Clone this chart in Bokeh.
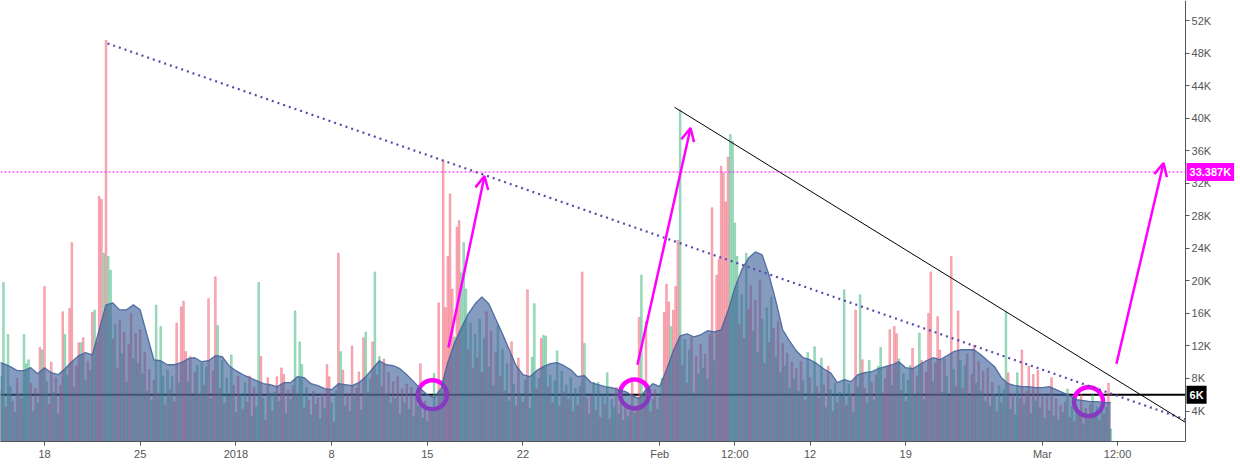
import pandas as pd
from bokeh.plotting import figure
from bokeh.models import (ColumnDataSource, Range1d, FixedTicker, Label, Arrow, OpenHead,
                          LinearAxis)
from bokeh.embed import file_html
from bokeh.resources import INLINE

ORIGIN = pd.Timestamp("2017-12-01")


def to_day(t):
    return (pd.to_datetime(t) - ORIGIN) / pd.Timedelta(days=1)


# ---------------- data ----------------
bar_start = "2017-12-14 16:00"
bar_step = "4h"
volume_k = [
    6.5, 8.2, 19.8, 4.5, 13.4, 7.0, 5.2, 3.8, 8.0, 6.1,
    5.5, 13.4, 9.8, 10.3, 7.4, 3.9, 6.8, 5.0, 11.8, 11.5,
    19.3, 7.6, 4.8, 10.0, 6.3, 8.1, 3.6, 7.2, 16.2, 13.4,
    8.4, 16.6, 24.7, 6.9, 9.5, 12.4, 12.4, 13.0, 7.7, 10.1,
    9.0, 16.1, 16.4, 12.5, 30.4, 30.0, 23.4, 49.6, 23.0, 21.3,
    12.8, 14.6, 9.3, 15.2, 11.0, 13.7, 7.5, 12.2, 16.0, 10.4,
    13.5, 9.8, 14.0, 8.6, 11.2, 6.4, 9.1, 5.3, 7.8, 17.0,
    6.2, 14.4, 8.3, 4.7, 9.0, 6.6, 8.2, 5.1, 14.8, 7.4,
    16.8, 17.5, 11.3, 7.6, 10.7, 5.9, 8.8, 9.6, 6.1, 9.9,
    7.2, 9.4, 17.8, 5.5, 8.9, 20.5, 14.5, 6.8, 10.2, 4.9,
    8.0, 5.8, 10.9, 7.1, 3.8, 8.3, 6.0, 4.2, 7.5, 5.1,
    8.3, 3.4, 6.9, 4.5, 19.8, 10.7, 5.6, 2.9, 8.1, 6.2,
    4.0, 6.3, 8.2, 5.2, 9.3, 8.5, 3.7, 6.6, 5.4, 7.1,
    16.3, 6.0, 12.5, 9.7, 4.4, 6.9, 5.3, 3.5, 6.4, 4.8,
    5.6, 3.0, 6.1, 4.3, 9.7, 8.2, 5.0, 2.6, 6.5, 23.4,
    11.3, 9.0, 4.6, 6.2, 3.9, 12.0, 5.7, 6.8, 8.8, 4.1,
    13.0, 13.7, 6.3, 7.9, 12.5, 21.1, 8.4, 10.7, 7.0, 10.4,
    6.1, 8.7, 4.9, 7.6, 5.5, 8.2, 3.6, 6.7, 5.0, 7.3,
    4.2, 6.9, 3.3, 5.8, 4.6, 9.8, 3.1, 5.2, 2.7, 4.4,
    3.8, 8.6, 4.1, 17.3, 6.5, 34.8, 16.7, 23.0, 30.7, 19.0,
    13.1, 26.6, 27.4, 21.0, 24.7, 19.0, 11.6, 14.8, 9.2, 13.4,
    10.5, 15.3, 8.7, 12.9, 16.2, 9.4, 13.8, 7.1, 11.2, 14.5,
    8.3, 11.6, 6.5, 9.8, 5.2, 12.5, 7.3, 4.6, 10.5, 6.0,
    5.1, 7.8, 18.9, 4.3, 10.6, 17.2, 6.7, 8.0, 12.9, 13.3,
    13.2, 6.9, 8.4, 5.0, 7.7, 11.4, 4.6, 8.9, 6.3, 7.2,
    5.4, 8.1, 3.9, 6.8, 4.7, 7.0, 21.1, 12.3, 5.6, 3.6,
    5.9, 7.5, 4.1, 7.5, 3.2, 6.0, 4.8, 8.7, 3.0, 5.4,
    4.4, 6.9, 3.6, 5.1, 2.8, 4.9, 3.3, 4.0, 7.5, 3.7,
    4.5, 15.5, 20.7, 5.8, 15.0, 6.3, 3.9, 5.4, 6.6, 4.2,
    5.7, 8.0, 16.1, 19.6, 17.4, 14.4, 16.4, 19.3, 25.0, 41.0,
    9.6, 12.8, 7.4, 11.5, 13.1, 6.2, 10.7, 8.5, 12.2, 9.3,
    11.0, 7.9, 13.4, 29.0, 10.2, 20.7, 22.7, 34.1, 33.3, 29.7,
    35.2, 38.0, 37.2, 27.1, 23.0, 14.6, 18.3, 12.9, 23.4, 16.5,
    19.4, 13.8, 17.6, 11.2, 20.1, 15.3, 9.8, 16.7, 12.4, 18.0,
    14.1, 10.6, 15.0, 8.7, 12.3, 9.5, 11.1, 6.8, 10.0, 7.9,
    9.2, 6.4, 10.1, 7.7, 5.3, 11.2, 8.1, 6.0, 11.9, 7.0,
    5.6, 10.5, 7.2, 4.4, 9.5, 6.6, 3.9, 7.4, 5.0, 6.3,
    5.8, 18.9, 4.7, 7.3, 6.1, 3.8, 16.4, 6.9, 18.3, 10.3,
    6.8, 4.9, 10.2, 7.5, 5.3, 8.4, 9.5, 11.8, 6.2, 7.9,
    9.5, 14.0, 7.1, 14.4, 13.5, 10.4, 6.5, 8.6, 5.2, 7.8,
    9.6, 11.7, 6.0, 8.3, 13.6, 10.2, 5.4, 8.8, 16.0, 21.1,
    7.6, 9.9, 15.6, 11.5, 6.3, 10.4, 8.2, 5.9, 23.0, 9.1,
    7.0, 16.3, 10.2, 6.8, 9.6, 11.0, 5.7, 8.5, 12.1, 7.4,
    10.1, 6.4, 8.9, 5.2, 9.3, 4.6, 7.5, 6.0, 3.9, 7.1,
    5.0, 6.6, 16.2, 8.7, 4.2, 6.1, 3.5, 8.7, 5.5, 11.5,
    4.8, 6.4, 9.5, 3.7, 8.5, 5.2, 9.0, 4.4, 6.0, 3.1,
    5.7, 4.0, 8.1, 3.4, 5.5, 2.9, 4.7, 3.8, 5.1, 6.7,
    3.2, 4.6, 2.7, 4.1, 3.5, 6.0, 2.4, 4.3, 3.0, 4.8,
    6.0, 3.3, 4.5, 2.8, 4.0, 3.6, 4.4, 7.4, 1.8,
]
bar_side = list(
    "RGGRGGRGRG" "RGGGRGRGRG" "RGRRGRGRRG" "GRRGRRGRGR" "GRGRRRGRGG"
    "RGRRGRGRRG" "RGRGRGRGRG" "RGGRGRGRRG" "RRRGRGRGRG" "RGRGRRGRGR"
    "GRGRGRGRGR" "RGRGGRGRRG" "RGRGRRGRGR" "GRGGRGRGRG" "RGRGRRGRGR"
    "GRGRGRGRRG" "RGRGRGRGRR" "GRGRGRGRGR" "GRGRGRGRGR" "RGRRGRRRRR"
    "GRRGGGRGRG" "RGRGRGRGRG" "RGRGGRGRRG" "RGRGGGRGRG" "GRGRGGRGRG"
    "RGRGRGRGRG" "RGRGRGRGRG" "GRGRGRGRRG" "RRGRRGRGRG" "RGRRRGRRRG"
    "RGRGRGRGRG" "RGRRGRRRRR" "RGGGGRGRGR" "RGRGRGRGRG" "RGRGRGRGRG"
    "RGRGRGRGGR" "RGRGRGRGRG" "RGRGRGRGGR" "RGGRGRGGRR" "RRGRRGRGRG"
    "GRGRGRGRRR" "GRRRGRGRRG" "RRGRGRGRRG" "RGRGRGRGRG" "RGGRGRGGRR"
    "GRRGRGRGRG" "RGRGRGRGRG" "RGRGRRGRGR" "GRGRGRGRG"
)

ma_start = "2017-12-14 12:00"
ma_step = "12h"
ma_k = [
    10.06, 9.82, 9.45, 8.96, 8.96, 9.33, 8.59, 9.33, 8.71, 8.47,
    9.2, 10.06, 10.8, 11.17, 10.9, 14.0, 17.05, 17.3, 16.44, 16.44,
    17.05, 16.44, 13.37, 10.3, 10.18, 9.69, 9.69, 9.94, 10.43, 10.55,
    10.06, 10.18, 10.8, 10.67, 9.57, 8.96, 8.47, 8.1, 7.73, 7.36,
    7.24, 6.99, 7.48, 7.48, 8.22, 8.1, 7.36, 7.12, 6.75, 6.63,
    7.36, 7.24, 7.12, 7.48, 8.22, 9.2, 10.18, 9.69, 9.57, 9.2,
    8.47, 7.61, 6.75, 6.01, 5.64, 6.75, 9.94, 12.39, 14.23, 15.95,
    17.18, 18.04, 17.18, 15.34, 13.5, 11.53, 9.57, 8.47, 8.22, 8.96,
    9.45, 9.82, 9.94, 9.57, 9.08, 8.22, 8.34, 7.48, 7.24, 6.99,
    6.87, 6.63, 6.38, 5.89, 5.52, 6.63, 7.36, 6.99, 9.08, 11.41,
    13.25, 13.5, 13.13, 13.37, 13.87, 13.74, 13.99, 16.32, 19.14, 21.35,
    22.82, 23.56, 23.19, 20.74, 17.55, 13.99, 12.64, 11.41, 10.55, 10.31,
    9.82, 9.2, 8.71, 7.48, 7.85, 7.61, 8.47, 8.71, 8.83, 9.2,
    9.45, 9.69, 10.06, 9.33, 9.2, 9.69, 10.18, 10.55, 10.31, 10.8,
    11.29, 11.53, 11.53, 11.53, 10.92, 10.18, 9.45, 8.1, 7.36, 7.12,
    6.99, 6.99, 6.87, 6.87, 6.99, 6.63, 6.26, 5.89, 5.4, 5.28,
    5.15, 5.15, 5.03, 5.03,
]

x_tick_dates = ["2017-12-18", "2017-12-25", "2018-01-01", "2018-01-08", "2018-01-15",
                "2018-01-22", "2018-02-01", "2018-02-06 12:00", "2018-02-12",
                "2018-02-19", "2018-03-01", "2018-03-06 12:00"]
x_tick_labels = ["18", "25", "2018", "8", "15", "22", "Feb", "12:00", "12", "19", "Mar", "12:00"]
y_ticks = [4, 8, 12, 16, 20, 24, 28, 32, 36, 40, 44, 48, 52]
y_tick_labels = ["4K", "8K", "12K", "16K", "20K", "24K", "28K", "32K", "36K", "40K", "44K", "48K", "52K"]

level_support = 6.0
level_target = 33.387

dotted_trend_t = ["2017-12-22 14:40", "2018-03-11 11:15"]
dotted_trend_v = [49.2, 2.94]
solid_trend_t = ["2018-02-02 02:10", "2018-03-11 11:15"]
solid_trend_v = [41.35, 2.6]

arrow_t0 = ["2018-01-16 13:10", "2018-01-30 09:00", "2018-03-06 10:00"]
arrow_v0 = [11.8, 9.7, 9.8]
arrow_t1 = ["2018-01-19 04:30", "2018-02-03 06:15", "2018-03-09 20:40"]
arrow_v1 = [32.9, 38.8, 34.5]

ring_t = ["2018-01-15 09:00", "2018-01-30 04:00", "2018-03-04 09:00"]
ring_v = [6.0, 6.1, 5.15]

# visible window; the price scale sits at the last chart time
view_t = ["2017-12-14 18:45", "2018-03-15 06:30"]
scale_t = "2018-03-11 11:15"
view_v = [0.25, 54.48]

# ---------------- figure ----------------
FONT = "Liberation Sans"
RED, GREEN = "#ee5468", "#3db57c"
MAGENTA = "#ff00ff"

xr = [to_day(t) for t in view_t]
x_scale = to_day(scale_t)
p = figure(width=1237, height=462, output_backend="svg", toolbar_location=None,
           x_range=Range1d(xr[0], xr[1]), y_range=Range1d(view_v[0], view_v[1]),
           y_axis_location=None, min_border_left=0, min_border_top=0,
           min_border_right=0, min_border_bottom=0)
p.grid.visible = False
p.outline_line_color = None
p.background_fill_color = "white"
p.border_fill_color = "white"

# support line (under the bars and the area)
p.line(x=[xr[0], x_scale], y=[level_support, level_support], line_color="#000000", line_width=2)

bar_x = to_day(pd.date_range(bar_start, periods=len(volume_k), freq=bar_step))
bar_src = ColumnDataSource(dict(
    x=list(bar_x), top=volume_k,
    color=[RED if s == "R" else GREEN for s in bar_side],
))
p.vbar(x="x", top="top", bottom=0, width=0.12, source=bar_src,
       fill_color="color", line_color="color", fill_alpha=0.4, line_alpha=0.55, line_width=0.8)

# rings (drawn before the area so their lower half is tinted)
p.scatter(x=[to_day(t) for t in ring_t], y=ring_v, marker="circle", size=29,
          fill_color=None, line_color=MAGENTA, line_width=4.5)

ma_x = list(to_day(pd.date_range(ma_start, periods=len(ma_k), freq=ma_step)))
p.varea(x=ma_x, y1=[0] * len(ma_k), y2=ma_k, fill_color="#3a5d97", fill_alpha=0.62)
p.line(x=ma_x, y=ma_k, line_color="#46659a", line_width=1.3, line_alpha=0.9)

# trend lines
p.line(x=[to_day(t) for t in dotted_trend_t], y=dotted_trend_v, line_color="#5a4aae",
       line_width=2.2, line_dash="2 4")
p.line(x=[to_day(t) for t in solid_trend_t], y=solid_trend_v, line_color="#000000", line_width=1)

p.line(x=[xr[0], x_scale], y=[level_target, level_target], line_color=MAGENTA,
       line_width=1, line_dash="2 2")

for t0, v0, t1, v1 in zip(arrow_t0, arrow_v0, arrow_t1, arrow_v1):
    p.add_layout(Arrow(end=OpenHead(size=13, line_color=MAGENTA, line_width=2.5),
                       x_start=to_day(t0), y_start=v0, x_end=to_day(t1), y_end=v1,
                       line_color=MAGENTA, line_width=2.5))

# axes
tick_days = [float(to_day(t)) for t in x_tick_dates]
xa = p.xaxis[0]
xa.ticker = FixedTicker(ticks=tick_days)
xa.major_label_overrides = {d: l for d, l in zip(tick_days, x_tick_labels)}
xa.bounds = (xr[0], x_scale)

ya = LinearAxis(fixed_location=x_scale, ticker=FixedTicker(ticks=y_ticks),
                major_label_overrides={v: l for v, l in zip(y_ticks, y_tick_labels)})
p.add_layout(ya, "right")
for ax in (xa, ya):
    ax.axis_line_color = "#555555"
    ax.major_tick_line_color = "#555555"
    ax.major_tick_in = 0
    ax.major_tick_out = 4
    ax.minor_tick_line_color = None
    ax.major_label_text_color = "#555555"
    ax.major_label_text_font = FONT
    ax.major_label_text_font_size = "11px"
    ax.major_label_standoff = 2

# price labels on the scale
p.add_layout(Label(x=x_scale, y=level_target, x_offset=1, text="33.387K",
                   text_color="white", text_font=FONT, text_font_style="bold",
                   text_font_size="11px", text_align="left", text_baseline="middle",
                   background_fill_color=MAGENTA, padding=3))
p.add_layout(Label(x=x_scale, y=level_support, x_offset=1, text="6K",
                   text_color="white", text_font=FONT, text_font_style="bold",
                   text_font_size="11px", text_align="left", text_baseline="middle",
                   background_fill_color="#000000", padding=3))

open("out.html", "w").write(file_html(p, INLINE))
